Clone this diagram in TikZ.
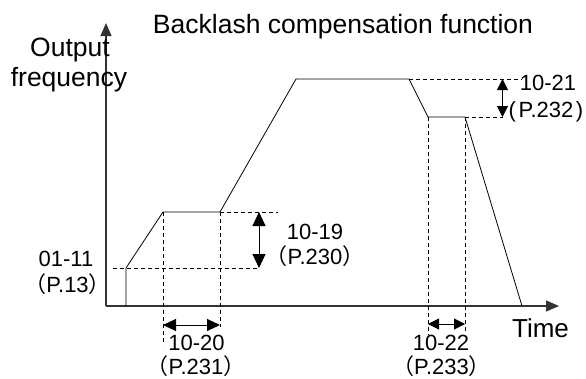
\documentclass[tikz,border=0pt]{standalone}
\usepackage{fontspec}
\setmainfont{Liberation Sans}
\newfontfamily\cjk{Noto Sans CJK SC}
\usetikzlibrary{arrows.meta}
\newcommand{\fp}[1]{{\cjk\makebox[0.5em][r]{（}}#1{\cjk\makebox[0.5em][l]{）}}}
\newcommand{\fpa}[1]{(\hspace{0.12em}#1\hspace{0.12em})}
\tikzset{
  axisline/.style={draw=black!80, line width=1.3pt, -{Triangle[length=13pt,width=11pt]}},
  curve/.style={draw=black, line width=0.8pt, line join=miter},
  guide/.style={draw=black, line width=0.8pt, dash pattern=on 4pt off 3pt},
  dim/.style={draw=black, line width=1pt, {Triangle[length=14pt,width=13pt]}-{Triangle[length=14pt,width=13pt]}},
  middim/.style={draw=black, line width=1pt, {Triangle[length=13pt,width=12pt]}-{Triangle[length=13pt,width=12pt]}},
  smalldim/.style={draw=black, line width=1pt, {Triangle[length=11pt,width=11pt]}-{Triangle[length=11pt,width=11pt]}},
  lbl/.style={inner sep=0pt, anchor=base, font=\fontsize{22}{24}\selectfont},
  biglbl/.style={inner sep=0pt, anchor=base, font=\fontsize{26.5}{28}\selectfont},
}
\begin{document}
\begin{tikzpicture}[x=1pt,y=-1pt]
\useasboundingbox (0,0) rectangle (586,378);
% axes
\coordinate (O) at (106,306);
\coordinate (Ytop) at (106,23);
\coordinate (Xend) at (559,306);
\draw[axisline] (O) -- (Ytop);
\draw[axisline] (O) -- (Xend);
% curve points
\coordinate (p0) at (126,306);
\coordinate (p1) at (126,268);
\coordinate (p2) at (163,212);
\coordinate (p3) at (220,212);
\coordinate (p4) at (296,79);
\coordinate (p5) at (409,79);
\coordinate (p6) at (428,117);
\coordinate (p7) at (465,117);
\coordinate (p8) at (522,306);
\draw[curve] (p0) -- (p1) -- (p2) -- (p3) -- (p4) -- (p5) -- (p6) -- (p7) -- (p8);
% guides
\coordinate (g1a) at (113,268);
\coordinate (g1b) at (258,268);
\coordinate (g2b) at (278,212);
\coordinate (g3b) at (163,345);
\coordinate (g4b) at (220,327);
\coordinate (g5b) at (522,79);
\coordinate (g6b) at (503,117);
\coordinate (g7b) at (428,335);
\coordinate (g8b) at (465,331);
\draw[guide] (g1a) -- (g1b);
\draw[guide] (p3) -- (g2b);
\draw[guide] (p2) -- (g3b);
\draw[guide] (p3) -- (g4b);
\draw[guide] (p5) -- (g5b);
\draw[guide] (p7) -- (g6b);
\draw[guide] (p6) -- (g7b);
\draw[guide] (p7) -- (g8b);
% dimension arrows
\coordinate (d1a) at (259,212);
\coordinate (d1b) at (259,268);
\draw[dim] (d1a) -- (d1b);
\coordinate (d2a) at (163,325);
\coordinate (d2b) at (220,325);
\draw[middim] (d2a) -- (d2b);
\coordinate (d3a) at (502.5,79);
\coordinate (d3b) at (502.5,117);
\draw[smalldim] (d3a) -- (d3b);
\coordinate (d4a) at (428,324);
\coordinate (d4b) at (465,324);
\draw[smalldim] (d4a) -- (d4b);
% labels
\node[biglbl] (title) at (343,33) {Backlash compensation function};
\node[biglbl] (out) at (70,56) {Output};
\node[biglbl] (freq) at (69,86) {frequency};
\node[biglbl, font=\fontsize{26}{28}\selectfont] (time) at (540.5,337) {Time};
\node[lbl] (l1) at (66,266) {01-11};
\node[lbl] (l1p) at (67.5,292) {\fp{P.13}};
\node[lbl] (l2) at (315,239) {10-19};
\node[lbl] (l2p) at (315,264) {\fp{P.230}};
\node[lbl] (l3) at (196.5,350) {10-20};
\node[lbl, text depth=2pt] (l3p) at (196,374) {\fp{P.231}};
\node[lbl] (l4) at (548,90.5) {10-21};
\node[lbl] (l4p) at (546,117) {\fpa{P.232}};
\node[lbl] (l5) at (441,350) {10-22};
\node[lbl, text depth=2pt] (l5p) at (441.5,374) {\fp{P.233}};
\end{tikzpicture}
\end{document}
